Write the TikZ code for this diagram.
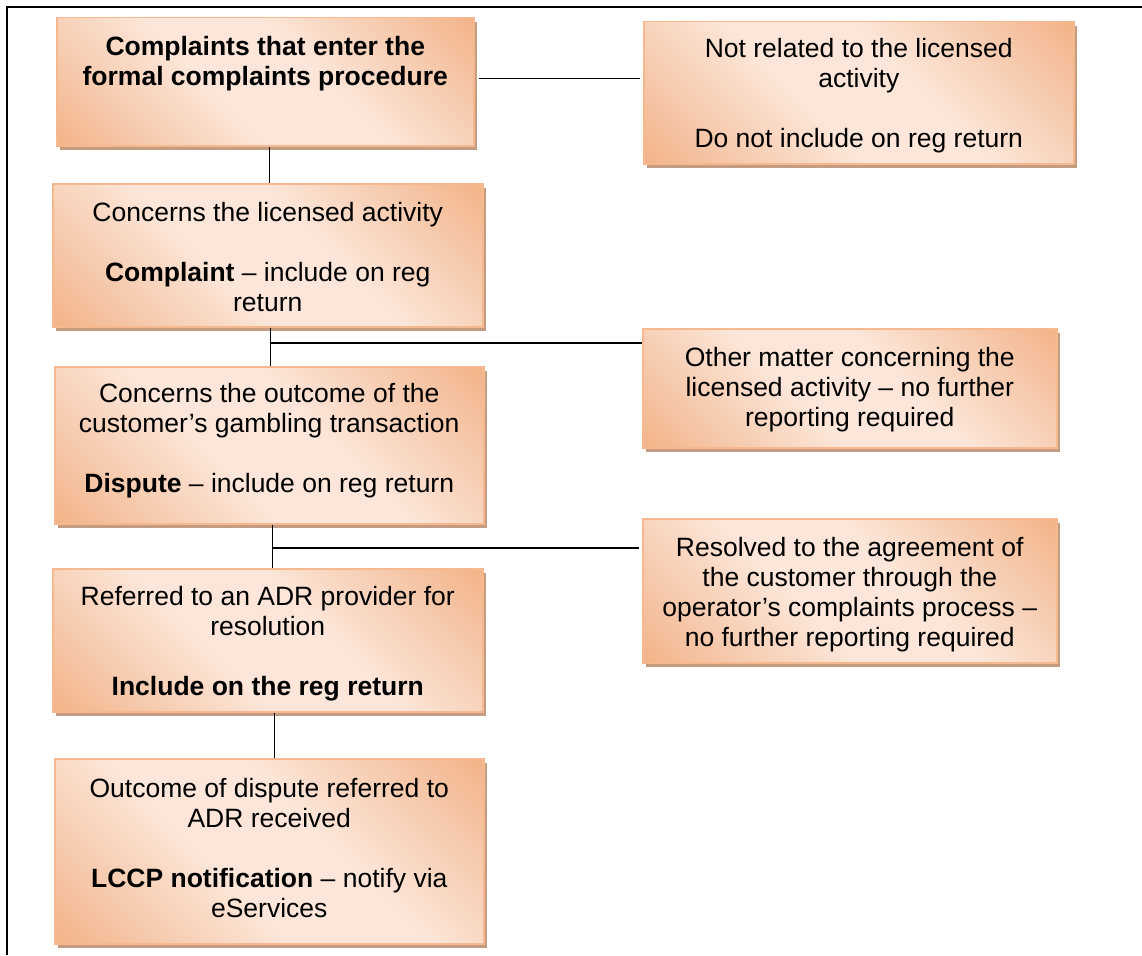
\documentclass[tikz,border=0pt]{standalone}
\usepackage{fontspec}
\setmainfont{Liberation Sans}
\usetikzlibrary{shadows}
\definecolor{dk}{HTML}{F0AB7C}
\definecolor{lt}{HTML}{FCE6D9}
\definecolor{bd}{HTML}{F5B88F}
\definecolor{sh}{HTML}{C49C82}
\pgfdeclarehorizontalshading{peach}{100bp}{color(0bp)=(dk); color(10bp)=(dk); color(42bp)=(lt); color(58bp)=(lt); color(90bp)=(dk); color(100bp)=(dk)}
\begin{document}
\begin{tikzpicture}[x=1pt,y=-1pt,
  boxstyle/.style={draw=bd, line width=1.5pt, shading=peach, shading angle=45,
    drop shadow={shadow xshift=3pt, shadow yshift=-4pt, fill=sh, opacity=1},
    inner sep=0pt, anchor=north west},
  txt/.style={anchor=north, inner sep=0pt, align=center, font=\fontsize{26.5}{30}\selectfont},
  conn/.style={line width=1.3pt, black}]
\useasboundingbox (0,0) rectangle (1142,955);
\fill[white] (0,0) rectangle (1142,955);
% frame
\draw[line width=2pt] (7,955) -- (7,7) -- (1142,7);
% left column boxes
\node[boxstyle, minimum width=417pt, minimum height=128pt] (b1) at (56,17) {};
\node[boxstyle, minimum width=430pt, minimum height=143pt] (b2) at (52,183) {};
\node[boxstyle, minimum width=429pt, minimum height=157pt] (b3) at (54,366) {};
\node[boxstyle, minimum width=430pt, minimum height=143pt] (b4) at (52,568) {};
\node[boxstyle, minimum width=429pt, minimum height=185pt] (b5) at (54,758) {};
% right column boxes
\node[boxstyle, minimum width=430pt, minimum height=142pt] (r1) at (643,21) {};
\node[boxstyle, minimum width=414pt, minimum height=119pt] (r2) at (642,328) {};
\node[boxstyle, minimum width=414pt, minimum height=144pt] (r3) at (642,518) {};
% texts
\node[txt] (t1) at ([yshift=-19pt]b1.north) {\textbf{Complaints that enter the}\\\textbf{formal complaints procedure}};
\node[txt] (t2) at ([yshift=-19pt]b2.north) {Concerns the licensed activity\\[30pt]\textbf{Complaint} – include on reg\\return};
\node[txt] (t3) at ([yshift=-17pt]b3.north) {Concerns the outcome of the\\customer’s gambling transaction\\[30pt]\textbf{Dispute} – include on reg return};
\node[txt] (t4) at ([yshift=-18pt]b4.north) {Referred to an ADR provider for\\resolution\\[30pt]\textbf{Include on the reg return}};
\node[txt] (t5) at ([yshift=-20pt]b5.north) {Outcome of dispute referred to\\ADR received\\[30pt]\textbf{LCCP notification} – notify via\\eServices};
\node[txt] (u1) at ([yshift=-17pt]r1.north) {Not related to the licensed\\activity\\[30pt]Do not include on reg return};
\node[txt] (u2) at ([yshift=-19pt]r2.north) {Other matter concerning the\\licensed activity – no further\\reporting required};
\node[txt] (u3) at ([yshift=-19pt]r3.north) {Resolved to the agreement of\\the customer through the\\operator’s complaints process –\\no further reporting required};
% connectors
\path (b1.east) ++(4,-3) coordinate (a1);
\draw[conn, shorten >=3pt] (a1) -- (a1 -| r1.west);
\draw[conn] ([xshift=4pt]b1.south) -- ([xshift=4pt]b1.south |- b2.north);
\draw[conn] ([xshift=3pt]b2.south) -- ([xshift=3pt]b2.south |- b3.north);
\coordinate (j1) at ([xshift=3pt]b2.south |- 0,343);
\draw[conn] (j1) -- (j1 -| r2.west);
\draw[conn] ([xshift=3.5pt]b3.south) -- ([xshift=3.5pt]b3.south |- b4.north);
\coordinate (j2) at ([xshift=3.5pt]b3.south |- 0,548);
\draw[conn, shorten >=3pt] (j2) -- (j2 -| r3.west);
\draw[conn] ([xshift=7pt]b4.south) -- ([xshift=7pt]b4.south |- b5.north);
\end{tikzpicture}
\end{document}
